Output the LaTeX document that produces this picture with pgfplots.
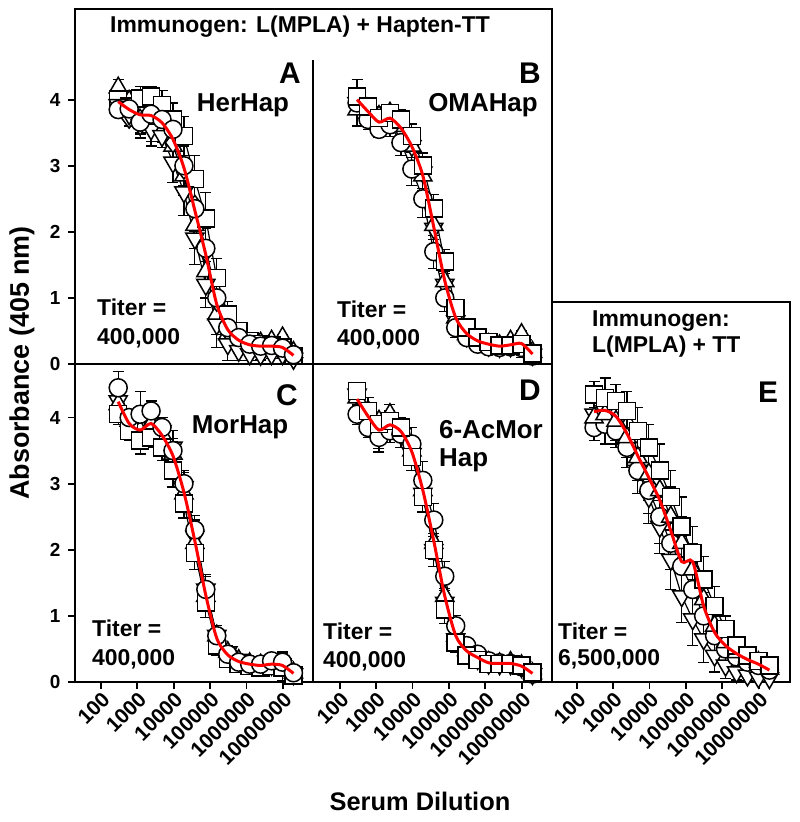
\documentclass[border=0pt]{standalone}
\usepackage{fontspec}
\setmainfont{Liberation Sans}
\usepackage{pgfplots}
\usepackage{pgfplotstable}
\pgfplotsset{compat=1.18}

\newcommand\fs[1]{\fontsize{#1}{#1}\selectfont\bfseries}

% panel A: a=triangle, b=diamond, c=square, d=triangle down, e=circle
\pgfplotstableread{
x m a b c d e ea eb
300 3.97 4.18 3.88 4.00 3.92 3.85 0.12 0.10
600 3.85 3.98 3.72 3.90 3.78 3.86 0.15 0.12
1200 3.77 3.85 3.70 4.02 3.62 3.66 0.18 0.20
2400 3.76 3.80 3.62 4.05 3.55 3.78 0.15 0.25
4800 3.65 3.58 3.55 3.92 3.45 3.70 0.22 0.18
9600 3.40 3.30 3.35 3.70 3.05 3.55 0.25 0.30
19200 2.97 2.85 2.95 3.45 2.60 3.00 0.30 0.35
38400 2.32 2.10 2.40 2.80 1.90 2.35 0.35 0.40
76800 1.65 1.40 1.70 2.20 1.20 1.75 0.40 0.35
153600 0.90 0.75 0.95 1.30 0.60 1.00 0.30 0.35
307200 0.52 0.45 0.50 0.75 0.30 0.55 0.20 0.25
614400 0.36 0.35 0.33 0.50 0.20 0.40 0.12 0.15
1228800 0.29 0.30 0.27 0.35 0.15 0.30 0.08 0.10
2457600 0.27 0.32 0.25 0.30 0.14 0.27 0.06 0.08
4915200 0.27 0.35 0.24 0.28 0.15 0.28 0.05 0.07
9830400 0.25 0.40 0.20 0.25 0.15 0.24 0.05 0.06
19660800 0.13 0.18 0.10 0.12 0.08 0.14 0.04 0.05
}\dataA

% panel B: a=square, b=circle, c=triangle, d=triangle down
\pgfplotstableread{
x m a b c d ea eb
300 4.00 4.05 3.95 3.85 3.95 0.25 0.12
600 3.82 3.90 3.70 3.80 3.78 0.12 0.15
1200 3.66 3.72 3.55 3.75 3.65 0.15 0.12
2400 3.72 3.80 3.62 3.80 3.70 0.12 0.18
4800 3.57 3.70 3.35 3.60 3.55 0.15 0.20
9600 3.29 3.45 2.95 3.30 3.30 0.18 0.25
19200 2.85 3.00 2.50 2.85 2.90 0.20 0.28
38400 2.07 2.35 1.70 2.10 2.05 0.22 0.25
76800 1.26 1.55 1.00 1.25 1.20 0.18 0.20
153600 0.70 0.85 0.55 0.70 0.65 0.12 0.15
307200 0.46 0.55 0.40 0.45 0.42 0.08 0.10
614400 0.35 0.40 0.30 0.35 0.33 0.06 0.08
1228800 0.30 0.33 0.26 0.30 0.28 0.05 0.06
2457600 0.27 0.28 0.25 0.28 0.26 0.05 0.05
4915200 0.29 0.28 0.26 0.35 0.27 0.05 0.06
9830400 0.31 0.30 0.25 0.45 0.28 0.05 0.15
19660800 0.15 0.16 0.12 0.18 0.14 0.04 0.05
}\dataB

% panel C: a=circle, b=square, c=triangle, d=triangle down
\pgfplotstableread{
x m a b c d ea eb
300 4.24 4.45 4.05 4.20 4.25 0.25 0.15
600 3.91 4.00 3.80 3.95 3.90 0.12 0.15
1200 3.81 4.05 3.65 3.80 3.75 0.35 0.12
2400 3.91 4.10 3.70 3.90 3.90 0.15 0.15
4800 3.73 3.85 3.55 3.75 3.80 0.15 0.20
9600 3.42 3.50 3.20 3.45 3.55 0.18 0.25
19200 2.87 3.00 2.70 2.85 2.95 0.20 0.22
38400 2.13 2.30 1.95 2.10 2.20 0.22 0.25
76800 1.31 1.40 1.20 1.30 1.40 0.20 0.22
153600 0.66 0.70 0.55 0.70 0.70 0.15 0.15
307200 0.41 0.42 0.35 0.45 0.45 0.08 0.10
614400 0.31 0.30 0.27 0.33 0.34 0.06 0.06
1228800 0.27 0.27 0.24 0.28 0.29 0.05 0.05
2457600 0.25 0.27 0.22 0.26 0.26 0.05 0.05
4915200 0.27 0.32 0.24 0.28 0.26 0.05 0.06
9830400 0.25 0.30 0.22 0.25 0.24 0.05 0.22
19660800 0.13 0.14 0.10 0.14 0.12 0.04 0.05
}\dataC

% panel D: a=square, b=circle, c=triangle, d=triangle down
\pgfplotstableread{
x m a b c d ea eb
300 4.28 4.40 4.05 4.30 4.35 0.12 0.15
600 4.02 4.10 3.85 4.10 4.00 0.20 0.15
1200 3.81 3.90 3.70 3.95 3.75 0.12 0.22
2400 3.89 3.95 3.80 4.05 3.85 0.15 0.18
4800 3.79 3.85 3.75 3.80 3.75 0.15 0.20
9600 3.48 3.40 3.60 3.50 3.45 0.20 0.25
19200 2.90 2.80 3.05 2.90 2.85 0.22 0.28
38400 2.13 2.00 2.45 2.10 2.00 0.25 0.25
76800 1.30 1.10 1.60 1.30 1.20 0.22 0.22
153600 0.70 0.60 0.85 0.70 0.65 0.15 0.15
307200 0.47 0.40 0.55 0.48 0.45 0.10 0.10
614400 0.37 0.33 0.42 0.37 0.35 0.06 0.08
1228800 0.29 0.27 0.32 0.30 0.28 0.05 0.06
2457600 0.28 0.27 0.29 0.28 0.27 0.05 0.05
4915200 0.28 0.27 0.28 0.30 0.27 0.05 0.05
9830400 0.24 0.25 0.23 0.25 0.23 0.05 0.05
19660800 0.13 0.14 0.12 0.13 0.12 0.04 0.04
}\dataD

% panel E: a=square, b=circle, c=triangle, d=triangle down
\pgfplotstableread{
x m a b c d ea eb
300 4.09 4.35 3.85 4.00 4.05 0.20 0.25
600 4.11 4.30 3.90 4.05 4.10 0.30 0.25
1200 4.02 4.25 3.80 3.95 3.90 0.25 0.30
2400 3.76 4.10 3.55 3.70 3.55 0.30 0.30
4800 3.42 3.80 3.20 3.40 3.20 0.35 0.35
9600 3.09 3.55 2.90 3.15 2.80 0.35 0.40
19200 2.75 3.20 2.50 2.90 2.35 0.40 0.40
38400 2.29 2.80 2.10 2.50 1.85 0.40 0.45
76800 1.82 2.35 1.75 2.10 1.30 0.45 0.40
153600 1.82 1.95 1.40 1.70 0.95 0.40 0.40
307200 1.15 1.55 1.00 1.25 0.65 0.35 0.35
614400 0.75 1.15 0.70 0.85 0.40 0.30 0.25
1228800 0.55 0.80 0.50 0.60 0.25 0.20 0.20
2457600 0.43 0.55 0.38 0.45 0.15 0.12 0.12
4915200 0.34 0.40 0.30 0.35 0.10 0.08 0.08
9830400 0.27 0.32 0.25 0.30 0.07 0.06 0.06
19660800 0.18 0.25 0.18 0.20 0.06 0.05 0.05
}\dataE

\pgfplotsset{
  mypanel/.style={
    scale only axis, ymin=0,
    anchor=south west, clip=false,
    axis line style={line width=2.2bp, black},
    tick style={line width=1.8bp, black},
    major tick length=7bp, tick align=outside,
    xminorticks=false, yminorticks=false,
    xtick pos=lower, ytick pos=left,
    yticklabel style={font=\fs{19}, xshift=-4bp},
    xticklabel style={font=\fs{21}, rotate=45, anchor=north east, inner sep=1bp},
  },
  myover/.style={scale only axis, ymin=0, anchor=south west, clip=false, hide axis},
  myxlab/.style={xtick={100,1000,10000,100000,1000000,10000000},
    xticklabels={100,1000,10000,100000,1000000,10000000}},
  myylab/.style={ytick={0,1,2,3,4}, yticklabels={0,1,2,3,4}},
  myser/.style={black, line width=1.2bp,
    mark options={fill=white, line width=1.5bp, solid, draw=black},
    error bars/y dir=both, error bars/y explicit,
    error bars/error bar style={line width=1.2bp, black},
    error bars/error mark options={rotate=90, mark size=5.5bp, line width=1.2bp, black}},
  mymean/.style={red, line width=3bp, smooth, tension=0.45, no marks},
  mksq/.style={mark=square*, mark size=8.5bp},
  mkci/.style={mark=*, mark size=9bp},
  mktu/.style={mark=triangle*, mark size=10.5bp},
  mktd/.style={mark=triangle*, mark size=10.5bp, mark options={rotate=180, fill=white, line width=1.5bp, draw=black}},
  mkdi/.style={mark=diamond*, mark size=10bp},
}

\begin{document}
\begin{tikzpicture}
\useasboundingbox (0,0) rectangle (800bp,822bp);

% ---------- A ----------
\begin{semilogxaxis}[mypanel, myylab, xtick=\empty, axis lines*=left,
  at={(75bp,458bp)}, width=238bp, height=304bp,
  xmin=19.5, xmax=6.76e7, ymax=4.6]
\addplot[myser, mktu] table[x=x, y=a, y error=ea]{\dataA};
\addplot[myser, mkdi] table[x=x, y=b, y error=eb]{\dataA};
\addplot[myser, mksq] table[x=x, y=c, y error=ea]{\dataA};
\addplot[myser, mktd] table[x=x, y=d, y error=eb]{\dataA};
\addplot[myser, mkci] table[x=x, y=e, y error=ea]{\dataA};
\end{semilogxaxis}
\begin{semilogxaxis}[myover, at={(75bp,458bp)}, width=238bp, height=304bp,
  xmin=19.5, xmax=6.76e7, ymax=4.6]
\addplot[mymean] table[x=x, y=m]{\dataA};
\end{semilogxaxis}

% ---------- B ----------
\begin{semilogxaxis}[mypanel, ytick=\empty, xtick=\empty, axis lines*=left,
  at={(313bp,458bp)}, width=239bp, height=304bp,
  xmin=18.5, xmax=6.76e7, ymax=4.6]
\addplot[myser, mktd] table[x=x, y=d, y error=eb]{\dataB};
\addplot[myser, mktu] table[x=x, y=c, y error=ea]{\dataB};
\addplot[myser, mkci] table[x=x, y=b, y error=eb]{\dataB};
\addplot[myser, mksq] table[x=x, y=a, y error=ea]{\dataB};
\end{semilogxaxis}
\begin{semilogxaxis}[myover, at={(313bp,458bp)}, width=239bp, height=304bp,
  xmin=18.5, xmax=6.76e7, ymax=4.6]
\addplot[mymean] table[x=x, y=m]{\dataB};
\end{semilogxaxis}

% ---------- C ----------
\begin{semilogxaxis}[mypanel, myylab, myxlab,
  at={(75bp,140bp)}, width=238bp, height=318bp,
  xmin=19.5, xmax=6.76e7, ymax=4.81]
\addplot[myser, mktd] table[x=x, y=d, y error=eb]{\dataC};
\addplot[myser, mktu] table[x=x, y=c, y error=ea]{\dataC};
\addplot[myser, mksq] table[x=x, y=b, y error=eb]{\dataC};
\addplot[myser, mkci] table[x=x, y=a, y error=ea]{\dataC};
\end{semilogxaxis}
\begin{semilogxaxis}[myover, at={(75bp,140bp)}, width=238bp, height=318bp,
  xmin=19.5, xmax=6.76e7, ymax=4.81]
\addplot[mymean] table[x=x, y=m]{\dataC};
\end{semilogxaxis}

% ---------- D ----------
\begin{semilogxaxis}[mypanel, myxlab, ytick=\empty,
  at={(313bp,140bp)}, width=239bp, height=318bp,
  xmin=18.5, xmax=6.76e7, ymax=4.81]
\addplot[myser, mktd] table[x=x, y=d, y error=eb]{\dataD};
\addplot[myser, mktu] table[x=x, y=c, y error=ea]{\dataD};
\addplot[myser, mkci] table[x=x, y=b, y error=eb]{\dataD};
\addplot[myser, mksq] table[x=x, y=a, y error=ea]{\dataD};
\end{semilogxaxis}
\begin{semilogxaxis}[myover, at={(313bp,140bp)}, width=239bp, height=318bp,
  xmin=18.5, xmax=6.76e7, ymax=4.81]
\addplot[mymean] table[x=x, y=m]{\dataD};
\end{semilogxaxis}

% ---------- E ----------
\begin{semilogxaxis}[mypanel, myxlab, ytick=\empty,
  at={(552bp,140bp)}, width=238bp, height=380bp,
  xmin=21, xmax=7.24e7, ymax=5.75]
\addplot[myser, mktd] table[x=x, y=d, y error=eb]{\dataE};
\addplot[myser, mkci] table[x=x, y=b, y error=ea]{\dataE};
\addplot[myser, mktu] table[x=x, y=c, y error=eb]{\dataE};
\addplot[myser, mksq] table[x=x, y=a, y error=ea]{\dataE};
\end{semilogxaxis}
\begin{semilogxaxis}[myover, at={(552bp,140bp)}, width=238bp, height=380bp,
  xmin=21, xmax=7.24e7, ymax=5.75]
\addplot[mymean] table[x=x, y=m]{\dataE};
\end{semilogxaxis}

% header frame over A and B
\draw[line width=2.2bp, line cap=rect] (75bp,762bp) -- (75bp,813bp) -- (552bp,813bp) -- (552bp,458bp);

% texts
\node[font=\fs{23}] at (300bp,795bp) {Immunogen: L(MPLA) + Hapten-TT};
\node[font=\fs{30}] at (290bp,749bp) {A};
\node[font=\fs{30}] at (530bp,749bp) {B};
\node[font=\fs{30}] at (287bp,427bp) {C};
\node[font=\fs{30}] at (530bp,432bp) {D};
\node[font=\fs{30}] at (768bp,430bp) {E};

\node[font=\fs{26}] at (243bp,717bp) {HerHap};
\node[font=\fs{26}] at (483bp,717bp) {OMAHap};
\node[font=\fs{26}] at (240bp,395bp) {MorHap};
\node[font=\fs{26}, anchor=base west, inner sep=0pt] at (439bp,383bp) {6-AcMor};
\node[font=\fs{26}, anchor=base west, inner sep=0pt] at (439bp,355bp) {Hap};

\node[font=\fs{23}, anchor=base west, inner sep=0pt] at (97bp,506bp) {Titer =};
\node[font=\fs{23}, anchor=base west, inner sep=0pt] at (97bp,477bp) {400,000};
\node[font=\fs{23}, anchor=base west, inner sep=0pt] at (337bp,504bp) {Titer =};
\node[font=\fs{23}, anchor=base west, inner sep=0pt] at (337bp,476bp) {400,000};
\node[font=\fs{23}, anchor=base west, inner sep=0pt] at (92bp,185bp) {Titer =};
\node[font=\fs{23}, anchor=base west, inner sep=0pt] at (92bp,156bp) {400,000};
\node[font=\fs{23}, anchor=base west, inner sep=0pt] at (323bp,182bp) {Titer =};
\node[font=\fs{23}, anchor=base west, inner sep=0pt] at (323bp,154bp) {400,000};
\node[font=\fs{23}, anchor=base west, inner sep=0pt] at (558bp,182bp) {Titer =};
\node[font=\fs{23}, anchor=base west, inner sep=0pt] at (558bp,156bp) {6,500,000};

\node[font=\fs{23}, anchor=base west, inner sep=0pt] at (592bp,495bp) {Immunogen:};
\node[font=\fs{23}, anchor=base west, inner sep=0pt] at (592bp,469bp) {L(MPLA) + TT};

\node[font=\fs{27}, rotate=90] at (22bp,459bp) {Absorbance (405 nm)};
\node[font=\fs{25.5}] at (420bp,21bp) {Serum Dilution};
\end{tikzpicture}
\end{document}
